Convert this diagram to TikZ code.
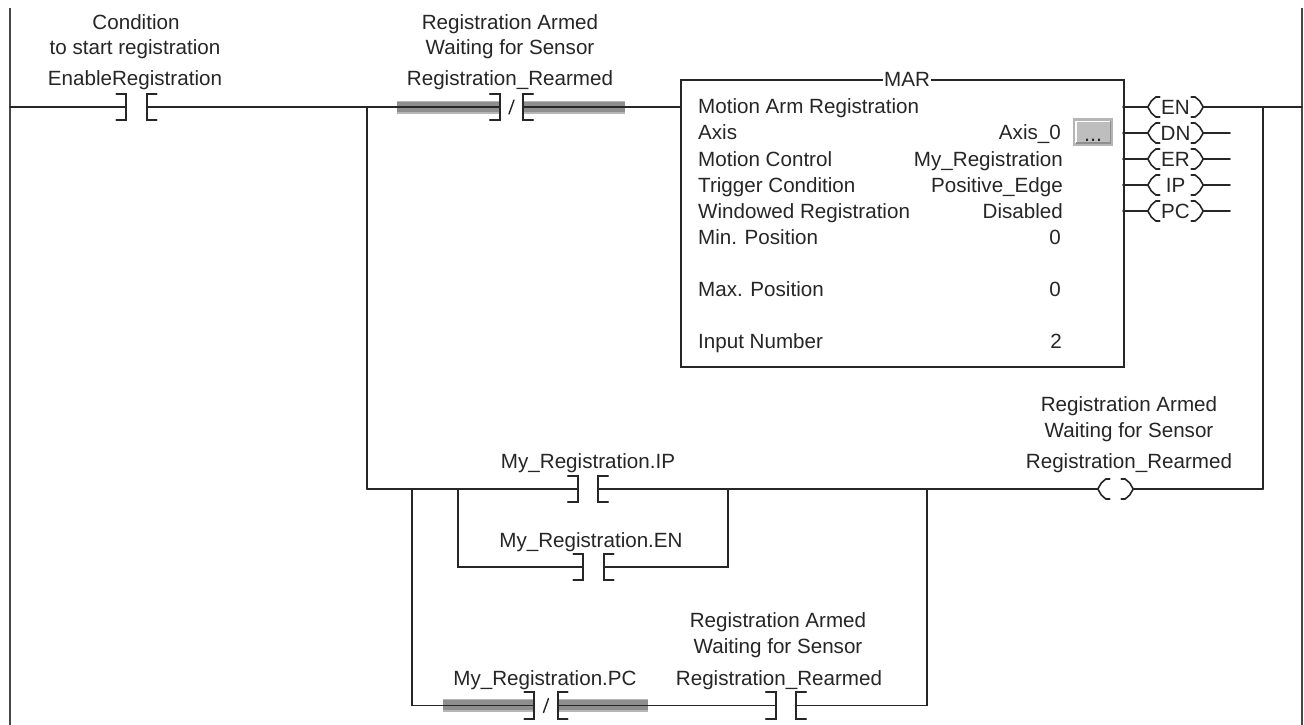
\documentclass[tikz,border=0pt]{standalone}
\usepackage{fontspec}
\setmainfont{Liberation Sans}
\usetikzlibrary{calc}
\definecolor{ink}{HTML}{262626}
\definecolor{railc}{HTML}{484848}
\definecolor{hilite}{HTML}{8E8E8E}
\definecolor{hilitel}{HTML}{B5B5B5}
\definecolor{btnface}{HTML}{BEBEBE}
\tikzset{
  wire/.style={draw=ink,line width=1.8pt,line cap=round,line join=miter},
  arcw/.style={draw=ink,line width=1.6pt,line cap=round,line join=round},
  rail/.style={draw=railc,line width=2.8pt},
  txt/.style={font=\fontsize{20.6}{24}\selectfont,text=ink,inner sep=0pt,anchor=base},
  boxl/.style={txt,anchor=base west},
  boxr/.style={txt,anchor=base east},
  gapn/.style={inner sep=0pt,minimum width=#1,minimum height=26pt,draw=none},
  coiln/.style={inner sep=0pt,minimum width=#1,minimum height=22pt,draw=none,
     font=\fontsize{20.6}{24}\selectfont,text=ink,text height=15pt,text depth=0pt}
}
% #1 name, #2 x, #3 y : normally open contact
\newcommand{\nocontact}[3]{%
  \node[gapn=20pt] (#1) at (#2,#3) {};
  \draw[wire] ($(#1.north west)+(-10,0)$) -- (#1.north west) -- (#1.south west) -- ++(-10,0);
  \draw[wire] ($(#1.north east)+(10,0)$) -- (#1.north east) -- (#1.south east) -- ++(10,0);
}
% #1 name, #2 x, #3 y, #4 left band length, #5 right band length : normally closed contact
\newcommand{\nccontact}[5]{%
  \fill[hilitel] ($(#2-11.5-#4,#3-6.5)$) rectangle ($(#2-11.5,#3+6.5)$);
  \fill[hilitel] ($(#2+11.5,#3-6.5)$) rectangle ($(#2+11.5+#5,#3+6.5)$);
  \fill[hilite] ($(#2-11.5-#4,#3-5.5)$) rectangle ($(#2-11.5,#3+4.5)$);
  \fill[hilite] ($(#2+11.5,#3-5.5)$) rectangle ($(#2+11.5+#5,#3+4.5)$);
  \node[gapn=23pt] (#1) at (#2,#3) {};
  \draw[wire] ($(#1.north west)+(-10,0)$) -- (#1.north west) -- (#1.south west) -- ++(-10,0);
  \draw[wire] ($(#1.north east)+(10,0)$) -- (#1.north east) -- (#1.south east) -- ++(10,0);
  \draw[wire,line width=1.4pt] ($(#1.center)+(-2.5,7)$) -- ($(#1.center)+(2.5,-7)$);
}
% #1 name, #2 x, #3 y, #4 width, #5 text : output coil
\newcommand{\coil}[5]{%
  \node[coiln=#4] (#1) at (#2,#3) {#5};
  \draw[arcw] ($(#1.west)+(12,-10)$) -- ($(#1.west)+(8,-10)$) -- ($(#1.west)+(3.5,-6)$) -- (#1.west) -- ($(#1.west)+(3.5,6)$) -- ($(#1.west)+(8,10)$) -- ($(#1.west)+(12,10)$);
  \draw[arcw] ($(#1.east)+(-12,-10)$) -- ($(#1.east)+(-8,-10)$) -- ($(#1.east)+(-3.5,-6)$) -- (#1.east) -- ($(#1.east)+(-3.5,6)$) -- ($(#1.east)+(-8,10)$) -- ($(#1.east)+(-12,10)$);
}
\begin{document}
\begin{tikzpicture}[x=1pt,y=-1pt]
\useasboundingbox (0,0) rectangle (1304,725);
\fill[white] (0,0) rectangle (1304,725);

% power rails
\coordinate (railLtop) at (10,8);
\coordinate (railLbot) at (10,725);
\coordinate (railRtop) at (1302,8);
\coordinate (railRbot) at (1302,725);
\draw[rail] (railLtop) -- (railLbot);
\draw[rail] (railRtop) -- (railRbot);

% junctions
\coordinate (jL) at (10,107);
\coordinate (jR) at (1302,107);
\coordinate (b1t) at (367,107);
\coordinate (b1b) at (367,489);
\coordinate (b2t) at (412,489);
\coordinate (b2b) at (412,705.5);
\coordinate (b3t) at (458,489);
\coordinate (b3b) at (458,567);
\coordinate (b4t) at (728,489);
\coordinate (b4b) at (728,567);
\coordinate (b5t) at (927,489);
\coordinate (b5b) at (927,705.5);
\coordinate (b6t) at (1263,107);
\coordinate (b6b) at (1263,489);

% instructions
\nocontact{c1}{136.5}{107}
\nccontact{c2}{511.5}{107}{103}{102}
\nocontact{c3}{588}{489}
\nocontact{c4}{593.5}{567}
\nccontact{c5}{546}{705.5}{92}{90}
\nocontact{c6}{786}{705.5}
\coil{cEN}{1175.5}{107}{55pt}{EN}
\coil{cDN}{1175.5}{133}{55pt}{DN}
\coil{cER}{1175.5}{159}{55pt}{ER}
\coil{cIP}{1175.5}{185}{55pt}{IP}
\coil{cPC}{1175.5}{211}{55pt}{PC}
\coil{cOut}{1115.5}{489}{35pt}{}

% function block
\node[draw=ink,line width=1.7pt,fill=white,inner sep=0pt,minimum width=443pt,minimum height=287pt,anchor=north west] (mar) at (680,79) {};
\node[txt,fill=white,inner xsep=1pt,inner ysep=0pt] (marT) at (907,87) {MAR};

\node[boxl] (l1) at (698,113) {Motion Arm Registration};
\node[boxl] (l2) at (698,139) {Axis};
\node[boxl] (l3) at (698,166) {Motion Control};
\node[boxl] (l4) at (698,192) {Trigger Condition};
\node[boxl] (l5) at (698,218) {Windowed Registration};
\node[boxl] (l6) at (698,244) {Min. Position};
\node[boxl] (l7) at (698,296) {Max. Position};
\node[boxl] (l8) at (698,348) {Input Number};
\node[boxr] (r2) at (1061,139) {Axis\_0};
\node[boxr] (r3) at (1063,166) {My\_Registration};
\node[boxr] (r4) at (1063,192) {Positive\_Edge};
\node[boxr] (r5) at (1063,218) {Disabled};
\node[boxr] (r6) at (1061,244) {0};
\node[boxr] (r7) at (1061,296) {0};
\node[boxr] (r8) at (1062,348) {2};

% browse button
\node[draw=hilitel,line width=2.5pt,fill=btnface,inner sep=0pt,minimum width=38pt,minimum height=25pt] (btn) at (1093,132) {};
\draw[white,line width=1.5pt] ($(btn.south west)+(3,-3)$) -- ($(btn.north west)+(3,3)$) -- ($(btn.north east)+(-3,3)$);
\draw[hilite,line width=1.5pt] ($(btn.north east)+(-3,3)$) -- ($(btn.south east)+(-3,-3)$) -- ($(btn.south west)+(3,-3)$);
\node[txt,font=\fontsize{21.6}{24}\selectfont] (btnT) at (1093,141.5) {...};

% labels
\node[txt] (t1a) at (136,30) {Condition};
\node[txt] (t1b) at (135,55) {to start registration};
\node[txt] (t1c) at (135,85) {EnableRegistration};
\node[txt] (t2a) at (510,30) {Registration Armed};
\node[txt] (t2b) at (510,55) {Waiting for Sensor};
\node[txt] (t2c) at (510,85) {Registration\_Rearmed};
\node[txt] (t3a) at (1129,411) {Registration Armed};
\node[txt] (t3b) at (1129,437) {Waiting for Sensor};
\node[txt] (t3c) at (1129,468) {Registration\_Rearmed};
\node[txt] (t4)  at (588,468) {My\_Registration.IP};
\node[txt] (t5)  at (591,547) {My\_Registration.EN};
\node[txt] (t6)  at (545,685) {My\_Registration.PC};
\node[txt] (t7a) at (778,627) {Registration Armed};
\node[txt] (t7b) at (778,653) {Waiting for Sensor};
\node[txt] (t7c) at (779,685) {Registration\_Rearmed};

% free ends of unconnected outputs
\coordinate (eDN) at (1230,133);
\coordinate (eER) at (1230,159);
\coordinate (eIP) at (1230,185);
\coordinate (ePC) at (1230,211);
\coordinate (mEN) at (1123,107);
\coordinate (mDN) at (1123,133);
\coordinate (mER) at (1123,159);
\coordinate (mIP) at (1123,185);
\coordinate (mPC) at (1123,211);
\coordinate (mIn) at (680,107);

% wires
\draw[wire] (jL) -- (c1.west);
\draw[wire] (c1.east) -- (c2.west);
\draw[wire] (c2.east) -- (mIn);
\draw[wire] (b1t) -- (b1b);
\draw[wire] (b1b) -- (c3.west);
\draw[wire] (c3.east) -- (cOut.west);
\draw[wire] (cOut.east) -- (b6b);
\draw[wire] (b6t) -- (b6b);
\draw[wire] (b2t) -- (b2b) -- (c5.west);
\draw[wire] (c5.east) -- (c6.west);
\draw[wire] (c6.east) -- (b5b) -- (b5t);
\draw[wire] (b3t) -- (b3b) -- (c4.west);
\draw[wire] (c4.east) -- (b4b) -- (b4t);
\draw[wire] (mEN) -- (cEN.west);
\draw[wire] (cEN.east) -- (jR);
\draw[wire] (mDN) -- (cDN.west);
\draw[wire] (cDN.east) -- (eDN);
\draw[wire] (mER) -- (cER.west);
\draw[wire] (cER.east) -- (eER);
\draw[wire] (mIP) -- (cIP.west);
\draw[wire] (cIP.east) -- (eIP);
\draw[wire] (mPC) -- (cPC.west);
\draw[wire] (cPC.east) -- (ePC);
\end{tikzpicture}
\end{document}
